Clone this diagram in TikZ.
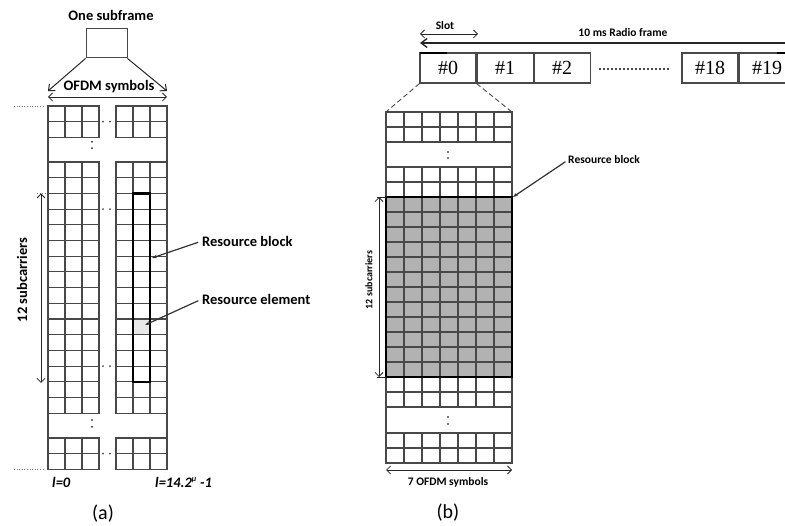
\documentclass[tikz,border=0pt]{standalone}
\usepackage{fontspec}
\setmainfont{Carlito}
\newfontfamily\slotfont{Liberation Serif}
\usetikzlibrary{positioning,arrows.meta}
\definecolor{GridGray}{RGB}{72,72,72}
\definecolor{BlockGray}{RGB}{178,178,178}

\begin{document}
\begin{tikzpicture}[x=1pt, y=-1pt,
  every node/.style={inner sep=0pt, align=center},
  lbl/.style={font=\fontsize{14.5}{16}\selectfont\bfseries},
  slbl/.style={font=\fontsize{11.5}{13}\selectfont\bfseries},
  capt/.style={font=\fontsize{20}{22}\selectfont},
  slotbox/.style={draw=GridGray, line width=1.1pt, minimum width=56pt, minimum height=30pt, font=\fontsize{20}{22}\selectfont\slotfont},
  cell/.style={draw=GridGray, line width=1.1pt},
  rbox/.style={draw=black, line width=2.3pt},
  dim/.style={draw=black!85, line width=0.8pt, {Straight Barb[length=4pt,width=8pt]}-{Straight Barb[length=4pt,width=8pt]}},
  fan/.style={draw=black!85, line width=1pt, -{Straight Barb[length=5pt,width=9pt]}},
  pointer/.style={draw=black!80, line width=1.2pt, -{Stealth[length=5pt,width=3.5pt]}},
  cut/.style={draw=GridGray, line width=0.9pt, dash pattern=on 5pt off 3pt},
  dots/.style={draw=gray, line width=0.7pt, dash pattern=on 1pt off 1.6pt}
]
\useasboundingbox (0,0) rectangle (785,526);
\clip (0,0) rectangle (785,526);

% ---- (a) one subframe ----
\node[lbl] (sftitle) at (111,15) {One subframe};
\node[draw=GridGray, line width=1pt, minimum width=41pt, minimum height=29pt] (subframe) at (106.5,43.5) {};
\node[lbl] (ofdmA) at (109,87) {OFDM symbols};
\coordinate (gA-tl) at (48,91);
\coordinate (gA-tr) at (167,91);
\draw[fan] (subframe.south west) -- (gA-tl);
\draw[fan] (subframe.south east) -- (gA-tr);
\coordinate (symA-l) at (48,97);
\coordinate (symA-r) at (167,97);
\draw[dim] (symA-l) -- (symA-r);

\fill[gray!18] (133,319) rectangle (150,334.7);
\foreach \gx in {48,116}{
  \foreach \ry/\n in {106/1,162/15,438/1}{
    \foreach \r in {0,...,\n}{
      \foreach \c in {0,1,2}{
        \draw[cell] ({\gx+17*\c},{\ry+15.7*\r}) rectangle +(17,15.7);
      }
    }
  }
}
\draw[cell] (48,106) -- (48,469.4);
\draw[cell] (167,106) -- (167,469.4);
\draw[rbox] (133,193.4) rectangle (150,381.8);

\foreach \y in {121.7,209.1,366.1,453.7}{
  \fill[GridGray] (103,\y) circle (1pt) (110,\y) circle (1pt);
}
\foreach \y in {141.7,148.3,420,426.7}{
  \fill[GridGray] (92,\y) circle (1.1pt);
}
\draw[dots] (14,106) -- (45,106);
\draw[dots] (14,469.4) -- (45,469.4);
\draw[dots] (37,193.4) -- (46,193.4);

\coordinate (scA-t) at (41,193.4);
\coordinate (scA-b) at (41,383);
\draw[dim] (scA-t) -- (scA-b);
\node[lbl, rotate=90] (scA) at (22,280) {12 subcarriers};

\node[lbl, anchor=west] (rbA) at (202,241) {Resource block};
\node[lbl, anchor=west] (reA) at (202,299) {Resource element};
\coordinate (rbA-tip) at (152,258);
\coordinate (reA-tip) at (145,325);
\draw[pointer, shorten <=4pt] (rbA.west) -- (rbA-tip);
\draw[pointer, shorten <=4pt] (reA.west) -- (reA-tip);

\node[lbl, anchor=west] (l0) at (52,482) {\itshape l=0};
\node[lbl, anchor=west] (lend) at (155,482) {\itshape l=14.2\textsuperscript{\fontsize{8}{9}\selectfont μ} -1};
\node[capt] (capA) at (103,514) {(a)};

% ---- (b) radio frame and slot ----
\node[slotbox] (s0) at (448,68) {\#0};
\node[slotbox, right=0pt of s0] (s1) {\#1};
\node[slotbox, right=0pt of s1] (s2) {\#2};
\node[slotbox] (s18) at (710,68) {\#18};
\node[slotbox, right=0pt of s18] (s19) {\#19};
\draw[GridGray, line width=2pt, dash pattern=on 1.6pt off 2.4pt] (599,69) -- (670,69);
\draw[black, line width=2.2pt] (420,53) -- (447,53);
\draw[black, line width=2.2pt] (777,53) -- (785,53);

\coordinate (rf-r) at (786,43);
\coordinate (rf-l) at (420,43);
\draw[draw=black!85, line width=1.4pt, -{Straight Barb[length=6pt,width=9pt]}] (rf-r) -- (rf-l);
\node[slbl] (rftxt) at (623,33) {10 ms Radio frame};
\coordinate (slot-l) at (420,34);
\coordinate (slot-r) at (478,34);
\draw[dim] (slot-l) -- (slot-r);
\node[slbl] (slottxt) at (445,26) {Slot};

\coordinate (gB-tl) at (386,112);
\coordinate (gB-tr) at (512,112);
\draw[cut] (s0.south west) -- (gB-tl);
\draw[cut] (s0.south east) -- (gB-tr);

\fill[BlockGray] (386,197) rectangle (512,377);
\foreach \ry/\n in {112/1,167/1,197/11,377/1,433/1}{
  \foreach \r in {0,...,\n}{
    \foreach \c in {0,...,6}{
      \draw[cell] ({386+18*\c},{\ry+15*\r}) rectangle +(18,15);
    }
  }
}
\draw[cell] (386,112) -- (386,463);
\draw[cell] (512,112) -- (512,463);
\draw[rbox] (386,197) rectangle (512,377);
\foreach \y in {152,158,417,424}{
  \fill[GridGray] (448,\y) circle (1.1pt);
}

\draw[draw=black!85, line width=0.8pt] (377,197) -- (386,197) (377,377) -- (386,377);
\coordinate (scB-t) at (379,197);
\coordinate (scB-b) at (379,377);
\draw[dim] (scB-t) -- (scB-b);
\node[font=\fontsize{10}{12}\selectfont\bfseries, rotate=90] (scB) at (369,280) {12 subcarriers};

\node[slbl, anchor=west] (rbB) at (568,160) {Resource block};
\coordinate (rbB-tip) at (513,197);
\draw[pointer, shorten <=3pt] (rbB.west) -- (rbB-tip);

\coordinate (symB-l) at (386,470);
\coordinate (symB-r) at (512,470);
\draw[dim] (symB-l) -- (symB-r);
\node[slbl] (ofdmB) at (448,482) {7 OFDM symbols};
\node[capt] (capB) at (448,513) {(b)};
\end{tikzpicture}
\end{document}
